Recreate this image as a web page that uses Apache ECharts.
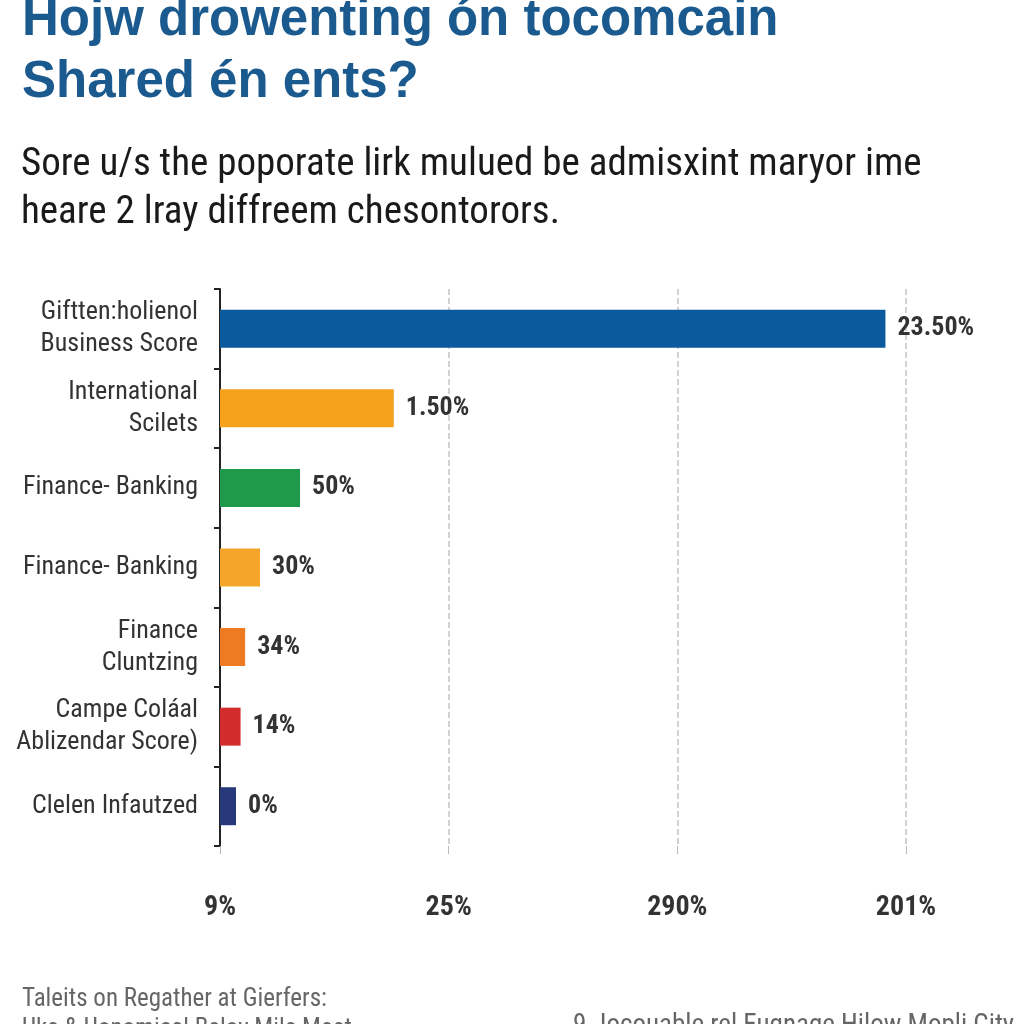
<!DOCTYPE html>
<html>
<head>
<meta charset="utf-8">
<script src="https://cdn.jsdelivr.net/npm/echarts@6/dist/echarts.min.js"></script>
<style>
html,body{margin:0;padding:0;background:#fff;}
#c{width:1024px;height:1024px;}
</style>
</head>
<body>
<div id="c"></div>
<script>
// Data
var categories = [
  "Giftten:holienol\nBusiness Score",
  "International\nScilets",
  "Finance- Banking",
  "Finance- Banking",
  "Finance\nCluntzing",
  "Campe Coláal\nAblizendar Score)",
  "Clelen Infautzed"
];
// bar lengths in axis units (one gridline step = 10)
var values = [29.1, 7.6, 3.5, 1.75, 1.1, 0.9, 0.7];
var barLabels = ["23.50%", "1.50%", "50%", "30%", "34%", "14%", "0%"];
var barColors = ["#0b5a9e", "#f5a11c", "#1f9a4b", "#f5a62a", "#ee7a22", "#d22c2c", "#27397a"];
var tickLabels = ["9%", "25%", "290%", "201%"];

var chart = echarts.init(document.getElementById('c'));
var NARROW = '"Liberation Sans Narrow", "Arial Narrow", "Roboto Condensed", sans-serif';

var option = {
  backgroundColor: '#ffffff',
  animation: false,
  title: [
    {
      text: 'Hojw drowenting ón tocomcain\nShared én ents?',
      left: 17, top: -15,
      textStyle: { fontFamily: 'Liberation Sans, Arial, sans-serif', fontWeight: 'bold', fontSize: 51, lineHeight: 62, color: '#1b5a8e' }
    },
    {
      text: 'Sore u/s the poporate lirk mulued be admisxint maryor ime\nheare 2 lray diffreem chesontorors.',
      left: 16, top: 136,
      textStyle: { fontFamily: NARROW, fontWeight: 'normal', fontSize: 39, lineHeight: 48, color: '#1a1a1a' }
    },
    {
      text: 'Taleits on Regather at Gierfers:\nUke & Uonomical Beloy Mile Meet',
      left: 17, top: 980,
      textStyle: { fontFamily: NARROW, fontWeight: 'normal', fontSize: 25, lineHeight: 30, color: '#666' }
    },
    {
      text: '9. Iocouable rel Eugnage Hilow Mopli City',
      left: 568, top: 1008,
      textStyle: { fontFamily: NARROW, fontWeight: 'normal', fontSize: 27, color: '#666' }
    }
  ],
  grid: { left: 220, top: 289, width: 686, height: 557, containLabel: false },
  xAxis: {
    type: 'value', min: 0, max: 30, interval: 10,
    axisLine: { show: false },
    axisTick: { show: true, length: 8, lineStyle: { color: '#bbb' } },
    splitLine: { show: true, lineStyle: { type: 'dashed', color: '#c4c4c4', width: 1.5 } },
    axisLabel: {
      margin: 48,
      fontFamily: NARROW, fontWeight: 'bold', fontSize: 28, color: '#333',
      formatter: function (v) { return tickLabels[Math.round(v / 10)] || ''; }
    }
  },
  yAxis: {
    type: 'category', inverse: true, data: categories,
    axisLine: { show: true, lineStyle: { color: '#222', width: 2 } },
    axisTick: { show: true, length: 6, lineStyle: { color: '#222', width: 2 } },
    axisLabel: {
      margin: 22, fontFamily: NARROW, fontSize: 26, lineHeight: 32, color: '#333', align: 'right'
    }
  },
  series: [{
    type: 'bar',
    barWidth: 38,
    data: values.map(function (v, i) { return { value: v, itemStyle: { color: barColors[i] } }; }),
    label: {
      show: true, position: 'right', distance: 12,
      fontFamily: NARROW, fontWeight: 'bold', fontSize: 26, color: '#333',
      formatter: function (p) { return barLabels[p.dataIndex]; }
    }
  }]
};
chart.setOption(option);
</script>
</body>
</html>
